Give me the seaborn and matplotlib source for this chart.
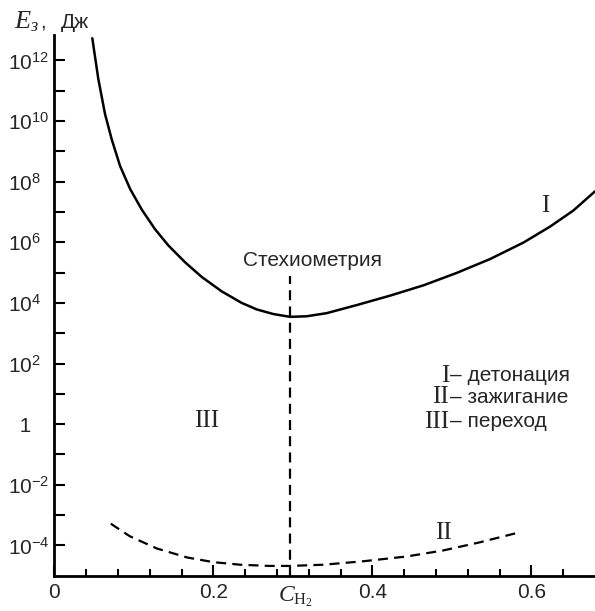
import numpy as np
import pandas as pd
import matplotlib
matplotlib.use("Agg")
import matplotlib.pyplot as plt
import seaborn as sns
from matplotlib.ticker import FixedLocator, NullFormatter

# Detonation limit (curve I): hydrogen fraction vs initiation energy, J
det_c = [0.0478, 0.0553, 0.0638, 0.0722, 0.0827, 0.0953, 0.110, 0.1267, 0.1434,
         0.1644, 0.1854, 0.2106, 0.2357, 0.2546, 0.2755, 0.2965, 0.3175, 0.3426,
         0.3804, 0.4223, 0.4642, 0.5062, 0.548, 0.590, 0.6235, 0.6528, 0.680]
det_e = [5.4e12, 2.5e11, 1.7e10, 2.5e9, 3.3e8, 5.8e7, 1.2e7, 2.7e6, 7.9e5,
         2.2e5, 7.2e4, 2.4e4, 1.0e4, 6.1e3, 4.3e3, 3.47e3, 3.63e3, 4.6e3,
         8.5e3, 1.74e4, 3.8e4, 9.8e4, 2.8e5, 9.8e5, 3.3e6, 1.12e7, 4.8e7]

# Ignition limit (curve II)
ign_c = [0.071, 0.095, 0.129, 0.167, 0.200, 0.234, 0.271, 0.296, 0.338, 0.389,
         0.443, 0.489, 0.535, 0.580]
ign_e = [5.2e-4, 2.0e-4, 7.9e-5, 4.0e-5, 2.8e-5, 2.3e-5, 2.1e-5, 2.1e-5, 2.3e-5,
         3.0e-5, 4.3e-5, 6.8e-5, 1.26e-4, 2.5e-4]

stoich_c = 0.296
stoich_top = 8.0e4

x_major = [0.0, 0.2, 0.4, 0.6]
x_major_labels = ["0", "0.2", "0.4", "0.6"]
x_minor = [0.04, 0.08, 0.12, 0.16, 0.24, 0.28, 0.32, 0.36, 0.44, 0.48, 0.52, 0.56, 0.64]
y_exponents = [-4, -2, 0, 2, 4, 6, 8, 10, 12]
y_minor_exponents = [-3, -1, 1, 3, 5, 7, 9, 11]

legend_rows = [("I", "– детонация"), ("II", "– зажигание"), ("III", "– переход")]

sns.set_theme(style="white")
plt.rcParams["font.family"] = ["Liberation Sans", "DejaVu Sans"]
plt.rcParams["mathtext.fontset"] = "custom"
plt.rcParams["mathtext.rm"] = "Liberation Serif"
plt.rcParams["mathtext.it"] = "Liberation Serif:italic"

W, H = 595, 611
fig = plt.figure(figsize=(W / 100, H / 100), dpi=100)
left, bottom, top = 54.3, 575.7, 35.0
ax = fig.add_axes([left / W, 1 - bottom / H, (W - left) / W, (bottom - top) / H])

det = pd.DataFrame({"c": det_c, "e": det_e})
ign = pd.DataFrame({"c": ign_c, "e": ign_e})

sns.lineplot(data=det, x="c", y="e", ax=ax, color="black", lw=1.8, sort=False)
sns.lineplot(data=ign, x="c", y="e", ax=ax, color="black", lw=1.6, sort=False)
ax.lines[-1].set_dashes((4.5, 2.8))
for ln in ax.lines:
    ln.set_solid_joinstyle("round")
    ln.set_dash_joinstyle("round")

ax.set_yscale("log")
ax.set_xlim(0, 0.68)
ax.set_ylim(1e-5, 10 ** 12.84)

vl = ax.vlines(stoich_c, 1e-5, stoich_top, color="black", lw=1.6)
vl.set_linestyle((0, (4.5, 2.8)))

for s in ["top", "right"]:
    ax.spines[s].set_visible(False)
for s in ["left", "bottom"]:
    ax.spines[s].set_linewidth(2.0)
    ax.spines[s].set_color("black")

# x axis ticks
ax.xaxis.set_major_locator(FixedLocator(x_major))
ax.xaxis.set_minor_locator(FixedLocator(x_minor))
ax.set_xticklabels(x_major_labels)
ax.tick_params(axis="x", which="major", direction="in", length=8, width=1.5,
               labelsize=15, pad=5, color="black", bottom=True)
ax.tick_params(axis="x", which="minor", direction="in", length=5, width=1.5,
               color="black", bottom=True)

# y axis ticks
ax.yaxis.set_major_locator(FixedLocator([10.0 ** k for k in y_exponents]))
ax.yaxis.set_minor_locator(FixedLocator([10.0 ** k for k in y_minor_exponents]))
ax.yaxis.set_minor_formatter(NullFormatter())
ylabels = []
for k in y_exponents:
    if k == 0:
        ylabels.append("\u2007" + "1")
    else:
        ylabels.append(r"$\mathregular{10^{%d}}$" % k)
ax.set_yticklabels(ylabels)
ax.tick_params(axis="y", which="both", direction="in", length=8, width=1.5,
               labelsize=15, pad=33, color="black", left=True)
for lab in ax.get_yticklabels():
    lab.set_horizontalalignment("left")

ax.set_xlabel("")
ax.set_ylabel("")

# axis titles
fig.text(14 / W, 1 - 22 / H, r"$E_{з}$", fontsize=19, va="center", ha="left")
fig.text(40 / W, 1 - 22 / H, ",", fontsize=15, va="center", ha="left")
fig.text(61 / W, 1 - 22 / H, "Дж", fontsize=15, va="center", ha="left")
ax.text(0.2814, -0.016, r"$C_{\mathrm{H}_2}$", transform=ax.get_xaxis_transform(),
        ha="left", va="top", fontsize=17)

# annotations
ax.text(0.237, 10 ** 5.4, "Стехиометрия", ha="left", va="center", fontsize=15)
ax.text(0.617, 10 ** 7.2, "I", family="Liberation Serif", fontsize=18, ha="center", va="center")
ax.text(0.489, 10 ** -3.6, "II", family="Liberation Serif", fontsize=18, ha="center", va="center")
ax.text(0.192, 10 ** 0.1, "III", family="Liberation Serif", fontsize=18, ha="center", va="center")

legend_y = [10 ** 1.6, 10 ** 0.88, 10 ** 0.08]
for (num, desc), yv in zip(legend_rows, legend_y):
    ax.text(0.4965, yv, num, family="Liberation Serif", fontsize=18, ha="right", va="center")
    ax.text(0.4975, yv, desc, fontsize=15, ha="left", va="center")

fig.savefig("out.png", dpi=100, facecolor="white")
